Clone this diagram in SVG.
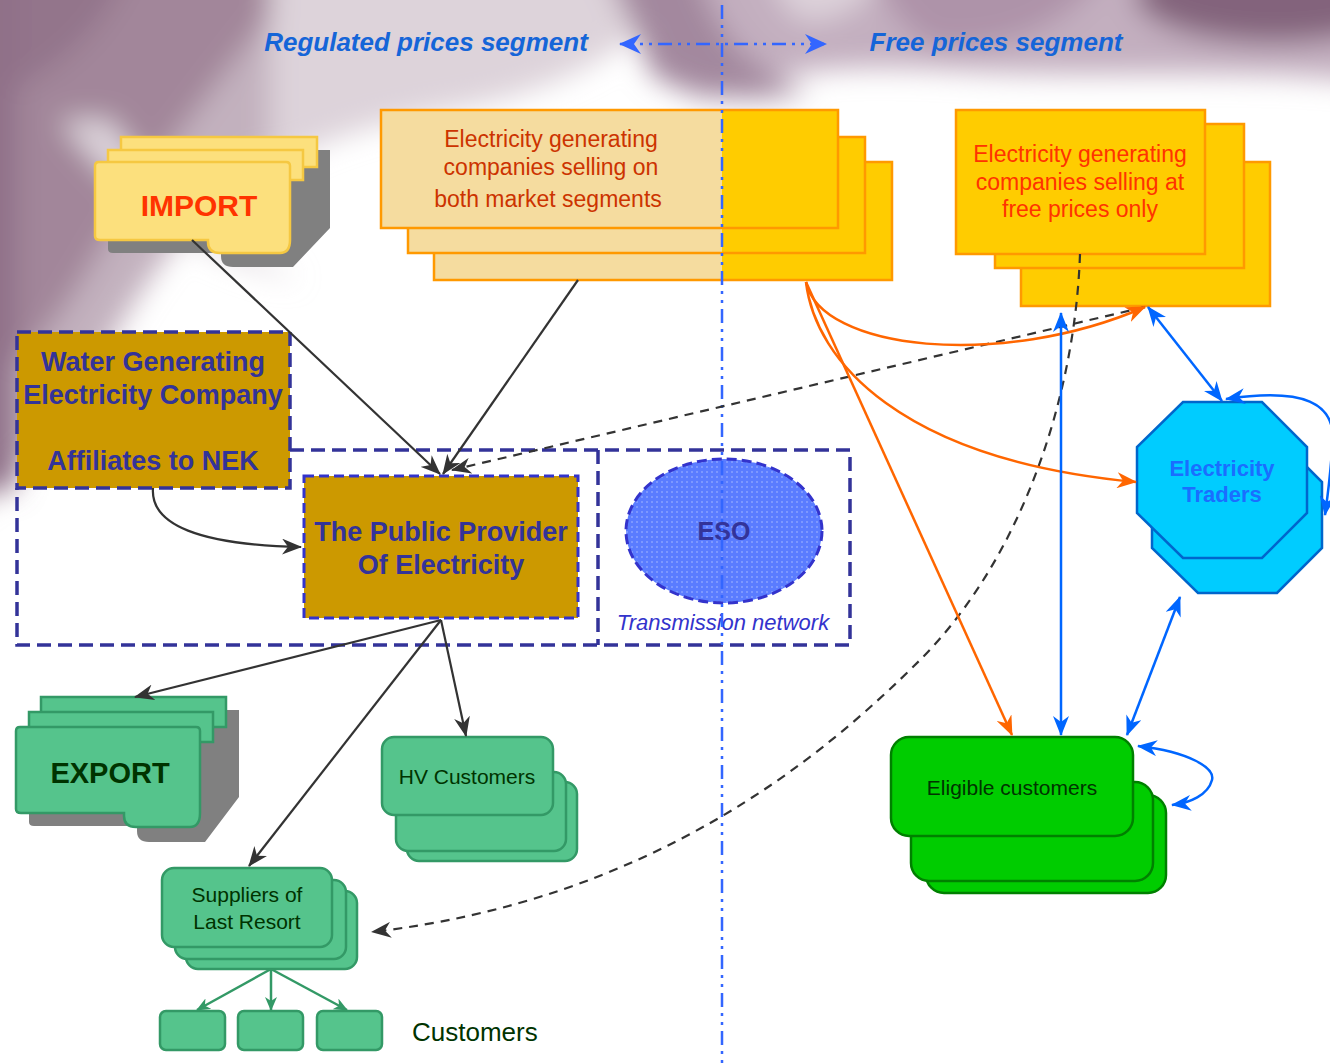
<svg xmlns="http://www.w3.org/2000/svg" width="1330" height="1064" viewBox="0 0 1330 1064">
<defs>
<filter id="soft" x="-10%" y="-10%" width="120%" height="120%">
<feGaussianBlur stdDeviation="14"/>
</filter>
<pattern id="esoDots" width="5" height="5" patternUnits="userSpaceOnUse">
<rect width="5" height="5" fill="#5a7cff"/>
<rect x="1" y="1" width="2" height="2" fill="#7d98ff"/>
</pattern>
<marker id="aK" markerUnits="userSpaceOnUse" markerWidth="20" markerHeight="16" refX="19" refY="8" orient="auto-start-reverse">
<path d="M0,0 L20,8 L0,16 L6,8 Z" fill="#333333"/>
</marker>
<marker id="aO" markerUnits="userSpaceOnUse" markerWidth="20" markerHeight="16" refX="19" refY="8" orient="auto-start-reverse">
<path d="M0,0 L20,8 L0,16 L6,8 Z" fill="#ff6600"/>
</marker>
<marker id="aB" markerUnits="userSpaceOnUse" markerWidth="20" markerHeight="16" refX="19" refY="8" orient="auto-start-reverse">
<path d="M0,0 L20,8 L0,16 L6,8 Z" fill="#0066ff"/>
</marker>
<marker id="aG" markerUnits="userSpaceOnUse" markerWidth="14" markerHeight="12" refX="13" refY="6" orient="auto-start-reverse">
<path d="M0,0 L14,6 L0,12 L4,6 Z" fill="#339966"/>
</marker>
<marker id="aH" markerUnits="userSpaceOnUse" markerWidth="22" markerHeight="20" refX="21" refY="10" orient="auto-start-reverse">
<path d="M0,0 L22,10 L0,20 L7,10 Z" fill="#3366ff"/>
</marker>
</defs>
<style>
.sans{font-family:"Liberation Sans",Arial,sans-serif}
.hdr{font-family:"Liberation Sans",Arial,sans-serif;font-size:26px;font-weight:bold;font-style:italic;fill:#1565d8}
.genT{font-size:23px;fill:#cc3300}
.freeT{font-size:23px;fill:#ff3300}
.navy{font-weight:bold;font-size:27px;fill:#333399}
.dk{fill:#003300}
.tan{fill:#f5dc9f}
.yel{fill:#ffcc00}
.obox{fill:none;stroke:#ff9900;stroke-width:2.5}
.ybox{fill:#ffcc00;stroke:#ff9900;stroke-width:2.5}
.imp{fill:#fce07d;stroke:#f5c842;stroke-width:2.5}
.shd{fill:#808080}
.grn{fill:#55c48c;stroke:#339966;stroke-width:2.5}
.elig{fill:#00cc00;stroke:#008000;stroke-width:2.5}
.trad{fill:#00ccff;stroke:#0066cc;stroke-width:2.5}
.cont{fill:none;stroke:#333399;stroke-width:3.5;stroke-dasharray:14,7}
.kl{fill:none;stroke:#333333;stroke-width:2.2}
.kd{fill:none;stroke:#333333;stroke-width:2.2;stroke-dasharray:9,7}
.ol{fill:none;stroke:#ff6600;stroke-width:2.5}
.bl{fill:none;stroke:#0066ff;stroke-width:2.5}
.gl{fill:none;stroke:#339966;stroke-width:2.5}
.dd{fill:none;stroke:#3366ff;stroke-width:2.5;stroke-dasharray:14,6,3,6,3,6}
</style>
<rect width="1330" height="1064" fill="#ffffff"/>
<g id="background" filter="url(#soft)">
<path d="M-60,-60 H640 C560,30 450,85 340,115 C240,150 160,250 100,360 C70,420 35,470 -60,530 Z" fill="#c2b1be"/>
<path d="M-60,-60 H330 C250,40 160,150 100,250 C65,310 30,370 -60,420 Z" fill="#a2869a"/>
<path d="M-60,-60 H140 C110,30 60,80 -60,120 Z" fill="#93748b"/>
<rect x="-60" y="-60" width="76" height="550" fill="#8f7088"/>
<path d="M60,120 C120,200 200,260 300,280 C220,240 160,190 110,120 Z" fill="#ddd4db"/>
<path d="M270,-60 H720 C660,40 570,90 450,110 C380,122 320,140 270,170 Z" fill="#ddd3da"/>
<path d="M590,-60 H1390 V85 C1250,65 1100,80 950,70 C850,64 770,68 700,100 C655,62 620,20 590,-60 Z" fill="#c3afbf"/>
<path d="M600,-60 L690,-60 C705,25 745,70 810,92 C745,104 685,98 652,74 Z" fill="#a3889e"/>
<path d="M760,-60 H900 C880,0 840,25 800,20 C780,5 770,-20 760,-60 Z" fill="#ddd2da"/>
<path d="M860,-60 H1120 C1090,20 1010,55 930,45 C900,25 880,0 860,-60 Z" fill="#ae93a9"/>
<ellipse cx="1275" cy="-5" rx="140" ry="48" fill="#83637b"/>
</g>
<g id="header">
<text class="hdr" x="426" y="51" text-anchor="middle">Regulated prices segment</text>
<text class="hdr" x="996" y="51" text-anchor="middle">Free prices segment</text>
</g>
<g id="import">
<path class="shd" d="M134,150 L330,150 L330,228 L293,267 L233,267 Q221,267 221,256 L221,253 L113,253 Q108,253 108,249 L108,175 L121,175 L121,163 L134,163 Z"/>
<rect class="imp" x="121" y="137" width="196" height="30"/>
<rect class="imp" x="108" y="150" width="195" height="30"/>
<path class="imp" d="M95,166 Q95,162 99,162 L286,162 Q290,162 290,166 L290,240 Q290,253 280,253 L220,253 Q208,253 208,242 L208,240 L100,240 Q95,240 95,236 Z"/>
<text class="sans" x="199" y="216" text-anchor="middle" font-size="30" font-weight="bold" fill="#ff3300">IMPORT</text>
</g>
<g id="gen-both">
<rect class="tan" x="434" y="162" width="288" height="118"/>
<rect class="yel" x="722" y="162" width="170" height="118"/>
<rect class="obox" x="434" y="162" width="458" height="118"/>
<rect class="tan" x="408" y="137" width="314" height="116"/>
<rect class="yel" x="722" y="137" width="143" height="116"/>
<rect class="obox" x="408" y="137" width="457" height="116"/>
<rect class="tan" x="381" y="110" width="341" height="118"/>
<rect class="yel" x="722" y="110" width="116" height="118"/>
<rect class="obox" x="381" y="110" width="457" height="118"/>
<text class="sans genT" x="551" y="147" text-anchor="middle">Electricity generating</text>
<text class="sans genT" x="551" y="175" text-anchor="middle">companies selling on</text>
<text class="sans genT" x="548" y="207" text-anchor="middle">both market segments</text>
</g>
<g id="gen-free">
<rect class="ybox" x="1021" y="162" width="249" height="144"/>
<rect class="ybox" x="995" y="124" width="249" height="144"/>
<rect class="ybox" x="956" y="110" width="249" height="144"/>
<text class="sans freeT" x="1080" y="162" text-anchor="middle">Electricity generating</text>
<text class="sans freeT" x="1080" y="190" text-anchor="middle">companies selling at</text>
<text class="sans freeT" x="1080" y="217" text-anchor="middle">free prices only</text>
</g>
<g id="containers">
<path class="cont" d="M290,450 H850 V645 H17 V488"/>
<path class="cont" d="M598,450 V645"/>
</g>
<g id="water-company">
<rect x="17" y="332" width="273" height="156" fill="#cc9900" stroke="#333399" stroke-width="3.5" stroke-dasharray="14,7"/>
<text class="sans navy" x="153" y="371" text-anchor="middle">Water Generating</text>
<text class="sans navy" x="153" y="404" text-anchor="middle">Electricity Company</text>
<text class="sans navy" x="153" y="470" text-anchor="middle">Affiliates to NEK</text>
</g>
<g id="public-provider">
<rect x="304" y="476" width="274" height="142" fill="#cc9900" stroke="#3333cc" stroke-width="3" stroke-dasharray="10,5"/>
<text class="sans navy" x="441" y="541" text-anchor="middle">The Public Provider</text>
<text class="sans navy" x="441" y="574" text-anchor="middle">Of Electricity</text>
</g>
<g id="eso">
<ellipse cx="724" cy="531" rx="98" ry="72" fill="url(#esoDots)" stroke="#3333cc" stroke-width="3" stroke-dasharray="10,5"/>
<text class="sans" x="724" y="540" text-anchor="middle" font-size="25" font-weight="bold" fill="#333399">ESO</text>
<text class="sans" x="723" y="630" text-anchor="middle" font-size="22" font-style="italic" fill="#3333cc">Transmission network</text>
</g>
<g id="export">
<path class="shd" d="M54,710 L239,710 L239,797 L205,842 L149,842 Q137,842 137,831 L137,826 L34,826 Q29,826 29,822 L29,740 L42,740 L42,725 L54,725 Z"/>
<rect class="grn" x="41" y="697" width="185" height="30"/>
<rect class="grn" x="29" y="712" width="184" height="30"/>
<path class="grn" d="M16,731 Q16,727 20,727 L196,727 Q200,727 200,731 L200,813 Q200,827 190,827 L136,827 Q124,827 124,816 L124,813 L21,813 Q16,813 16,809 Z"/>
<text class="sans dk" x="110" y="783" text-anchor="middle" font-size="29" font-weight="bold">EXPORT</text>
</g>
<g id="hv-customers">
<rect class="grn" x="407" y="782" width="170" height="79" rx="12"/>
<rect class="grn" x="396" y="772" width="170" height="79" rx="12"/>
<rect class="grn" x="382" y="737" width="171" height="78" rx="12"/>
<text class="sans dk" x="467" y="784" text-anchor="middle" font-size="21">HV Customers</text>
</g>
<g id="suppliers-last-resort">
<rect class="grn" x="186" y="891" width="171" height="78" rx="12"/>
<rect class="grn" x="175" y="880" width="171" height="79" rx="12"/>
<rect class="grn" x="162" y="868" width="170" height="79" rx="12"/>
<text class="sans dk" x="247" y="902" text-anchor="middle" font-size="21">Suppliers of</text>
<text class="sans dk" x="247" y="929" text-anchor="middle" font-size="21">Last Resort</text>
</g>
<g id="customers">
<rect class="grn" x="160" y="1011" width="65" height="39" rx="6"/>
<rect class="grn" x="238" y="1011" width="65" height="39" rx="6"/>
<rect class="grn" x="317" y="1011" width="65" height="39" rx="6"/>
<text class="sans dk" x="412" y="1041" font-size="26">Customers</text>
</g>
<g id="eligible-customers">
<rect class="elig" x="926" y="795" width="240" height="98" rx="18"/>
<rect class="elig" x="911" y="782" width="242" height="99" rx="18"/>
<rect class="elig" x="891" y="737" width="242" height="99" rx="18"/>
<text class="sans dk" x="1012" y="795" text-anchor="middle" font-size="21">Eligible customers</text>
</g>
<g id="electricity-traders">
<polygon class="trad" points="1198,437 1277,437 1322,482 1322,548 1277,593 1198,593 1152,548 1152,482"/>
<polygon class="trad" points="1183,402 1262,402 1307,447 1307,513 1262,558 1183,558 1137,513 1137,447"/>
<text class="sans" x="1222" y="476" text-anchor="middle" font-size="22" font-weight="bold" fill="#1a6eff">Electricity</text>
<text class="sans" x="1222" y="502" text-anchor="middle" font-size="22" font-weight="bold" fill="#1a6eff">Traders</text>
</g>
<g id="connectors">
<path class="dd" d="M722,5 V1064"/>
<path class="dd" d="M620,44 H826" marker-start="url(#aH)" marker-end="url(#aH)"/>
<path class="kl" d="M192,240 L440,474" marker-end="url(#aK)"/>
<path class="kl" d="M578,280 L443,474" marker-end="url(#aK)"/>
<path class="kd" d="M1145,307 L452,470" marker-end="url(#aK)"/>
<path class="kd" d="M1080,254 C1075,400 1020,560 920,660 C820,760 650,900 372,932" marker-end="url(#aK)"/>
<path class="kl" d="M153,488 C150,525 200,545 301,547" marker-end="url(#aK)"/>
<path class="kl" d="M441,620 L135,697" marker-end="url(#aK)"/>
<path class="kl" d="M441,620 L249,866" marker-end="url(#aK)"/>
<path class="kl" d="M441,620 L466,736" marker-end="url(#aK)"/>
<path class="gl" d="M271,969 L197,1010" marker-end="url(#aG)"/>
<path class="gl" d="M271,969 L271,1010" marker-end="url(#aG)"/>
<path class="gl" d="M271,969 L347,1010" marker-end="url(#aG)"/>
<path class="ol" d="M806,282 C820,350 1000,370 1145,307" marker-end="url(#aO)"/>
<path class="ol" d="M806,282 C815,360 900,460 1136,482" marker-end="url(#aO)"/>
<path class="ol" d="M806,282 L1012,735" marker-end="url(#aO)"/>
<path class="bl" d="M1061,313 L1061,735" marker-start="url(#aB)" marker-end="url(#aB)"/>
<path class="bl" d="M1148,307 L1222,401" marker-start="url(#aB)" marker-end="url(#aB)"/>
<path class="bl" d="M1180,597 L1127,735" marker-start="url(#aB)" marker-end="url(#aB)"/>
<path class="bl" d="M1226,399 C1300,388 1340,400 1332,450 C1330,480 1327,500 1325,515" marker-start="url(#aB)" marker-end="url(#aB)"/>
<path class="bl" d="M1138,746 C1190,752 1215,768 1212,780 C1208,795 1190,803 1172,805" marker-start="url(#aB)" marker-end="url(#aB)"/>
</g>
</svg>
